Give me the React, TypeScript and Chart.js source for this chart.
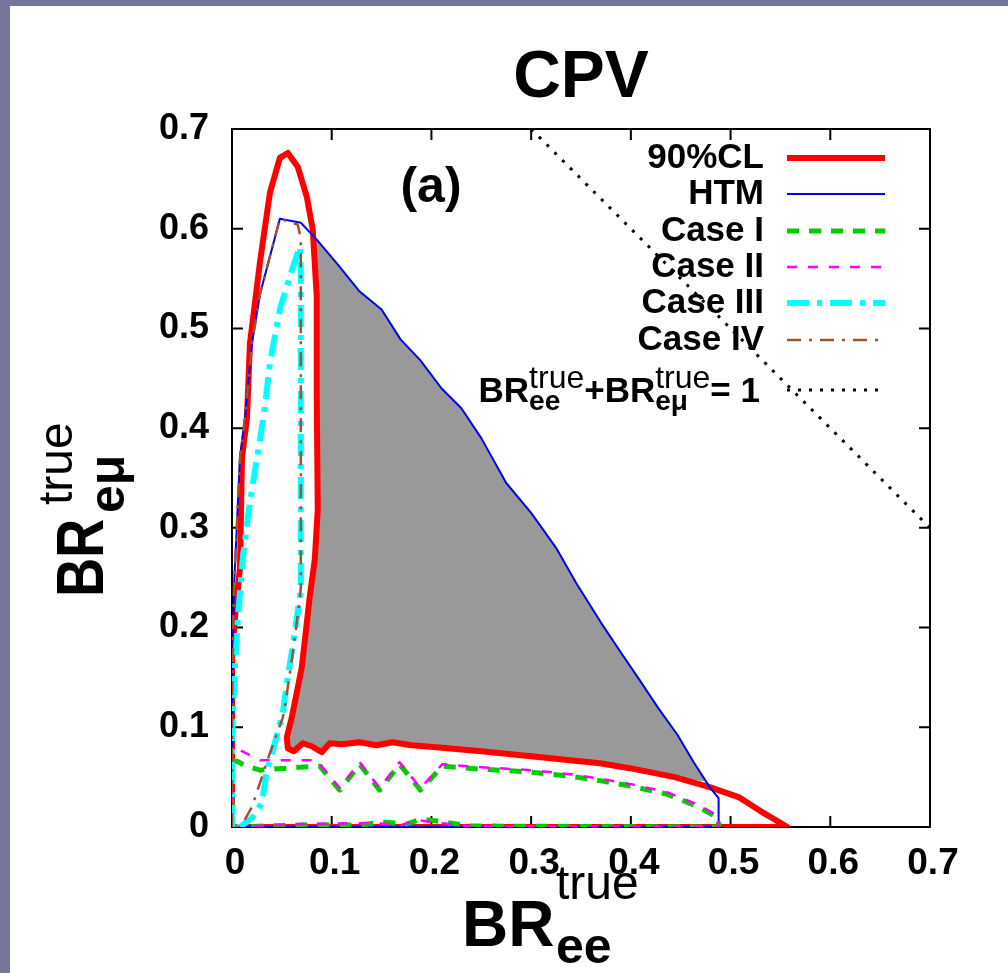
import { useEffect, useRef } from 'react';
import { Chart, registerables } from 'chart.js';

Chart.register(...registerables);

type P = [number, number];

const xTickValues = [0, 0.1, 0.2, 0.3, 0.4, 0.5, 0.6, 0.7];
const xTickLabels = ['0', '0.1', '0.2', '0.3', '0.4', '0.5', '0.6', '0.7'];
const yTickValues = [0, 0.1, 0.2, 0.3, 0.4, 0.5, 0.6, 0.7];
const yTickLabels = ['0', '0.1', '0.2', '0.3', '0.4', '0.5', '0.6', '0.7'];

const legendLabels = ['90%CL', 'HTM', 'Case I', 'Case II', 'Case III', 'Case IV'];

const cl90: P[] = [
  [0, 0], [0, 0.17], [0.003, 0.21], [0.008, 0.26], [0.01, 0.37], [0.015, 0.41], [0.018, 0.485],
  [0.028, 0.566], [0.038, 0.636], [0.048, 0.671], [0.056, 0.676], [0.066, 0.662], [0.075, 0.632],
  [0.081, 0.599], [0.085, 0.532], [0.085, 0.43], [0.086, 0.318], [0.083, 0.268], [0.078, 0.231],
  [0.07, 0.16], [0.06, 0.11], [0.055, 0.09], [0.056, 0.079], [0.062, 0.076], [0.071, 0.084],
  [0.08, 0.081], [0.09, 0.075], [0.098, 0.084], [0.11, 0.083], [0.128, 0.085], [0.145, 0.082],
  [0.161, 0.085], [0.18, 0.082], [0.205, 0.08], [0.25, 0.076], [0.3, 0.071], [0.339, 0.067],
  [0.369, 0.064], [0.399, 0.059], [0.444, 0.05], [0.479, 0.04], [0.508, 0.03], [0.53, 0.016],
  [0.557, 0], [0, 0],
];

const htm: P[] = [
  [0, 0], [0, 0.12], [0.002, 0.24], [0.008, 0.37], [0.013, 0.41], [0.02, 0.485], [0.028, 0.534],
  [0.048, 0.61], [0.069, 0.606], [0.085, 0.589], [0.107, 0.563], [0.128, 0.537], [0.15, 0.519],
  [0.169, 0.489], [0.189, 0.468], [0.21, 0.44], [0.23, 0.42], [0.25, 0.39], [0.275, 0.345],
  [0.3, 0.315], [0.325, 0.28], [0.345, 0.245], [0.37, 0.205], [0.39, 0.175], [0.409, 0.147],
  [0.427, 0.12], [0.447, 0.092], [0.463, 0.065], [0.479, 0.04], [0.488, 0.029], [0.488, 0], [0, 0],
];

const grayRegion: P[] = [
  [0.083, 0.59], [0.085, 0.589], [0.107, 0.563], [0.128, 0.537], [0.15, 0.519], [0.169, 0.489],
  [0.189, 0.468], [0.21, 0.44], [0.23, 0.42], [0.25, 0.39], [0.275, 0.345], [0.3, 0.315],
  [0.325, 0.28], [0.345, 0.245], [0.37, 0.205], [0.39, 0.175], [0.409, 0.147], [0.427, 0.12],
  [0.447, 0.092], [0.463, 0.065], [0.474, 0.046], [0.444, 0.05], [0.399, 0.059], [0.369, 0.064],
  [0.339, 0.067], [0.3, 0.071], [0.25, 0.076], [0.205, 0.08], [0.18, 0.082], [0.161, 0.085],
  [0.145, 0.082], [0.128, 0.085], [0.11, 0.083], [0.098, 0.084], [0.09, 0.075], [0.08, 0.081],
  [0.071, 0.084], [0.062, 0.076], [0.056, 0.079], [0.055, 0.09], [0.06, 0.11], [0.07, 0.16],
  [0.078, 0.231], [0.083, 0.268], [0.086, 0.318], [0.085, 0.43], [0.085, 0.532], [0.083, 0.59],
];

const case1: P[] = [
  [0, 0], [0, 0.066], [0.005, 0.066], [0.012, 0.062], [0.028, 0.057], [0.068, 0.06], [0.088, 0.061],
  [0.108, 0.037], [0.128, 0.063], [0.148, 0.037], [0.168, 0.063], [0.189, 0.037], [0.211, 0.061],
  [0.25, 0.058], [0.3, 0.055], [0.339, 0.051], [0.372, 0.046], [0.4, 0.041], [0.436, 0.033],
  [0.466, 0.021], [0.488, 0.009], [0.488, 0], [0.24, 0.001], [0.205, 0.006], [0.19, 0.008],
  [0.175, 0.003], [0.15, 0.005], [0.13, 0.002], [0.07, 0.002], [0, 0],
];

const case2: P[] = [
  [0, 0], [0, 0.075], [0.008, 0.077], [0.028, 0.067], [0.085, 0.067], [0.108, 0.039], [0.128, 0.065],
  [0.148, 0.039], [0.168, 0.065], [0.189, 0.039], [0.211, 0.063], [0.25, 0.06], [0.3, 0.057],
  [0.339, 0.053], [0.372, 0.048], [0.4, 0.043], [0.436, 0.035], [0.466, 0.023], [0.488, 0.011],
  [0.488, 0], [0.235, 0.001], [0.2, 0.005], [0.185, 0.007], [0.17, 0.002], [0.14, 0.004],
  [0.07, 0.003], [0, 0],
];

const case3: P[] = [
  [0, 0], [0, 0.09], [0.001, 0.114], [0.003, 0.161], [0.006, 0.211], [0.011, 0.271], [0.016, 0.311],
  [0.021, 0.345], [0.028, 0.388], [0.033, 0.421], [0.038, 0.465], [0.048, 0.519], [0.058, 0.552],
  [0.068, 0.582], [0.069, 0.56], [0.069, 0.238], [0.063, 0.195], [0.055, 0.144], [0.051, 0.115],
  [0.041, 0.077], [0.035, 0.057], [0.03, 0.024], [0.02, 0.009], [0.008, 0], [0, 0],
];

const case4: P[] = [
  [0, 0], [0, 0.12], [0.002, 0.24], [0.008, 0.37], [0.013, 0.41], [0.02, 0.485], [0.028, 0.534],
  [0.048, 0.61], [0.066, 0.604], [0.069, 0.59], [0.069, 0.24], [0.068, 0.228], [0.06, 0.168],
  [0.053, 0.12], [0.051, 0.11], [0.038, 0.074], [0.028, 0.044], [0.02, 0.02], [0.011, 0.004],
  [0.008, 0], [0, 0],
];

const sumLine: P[] = [[0.3, 0.7], [0.7, 0.3]];

const FONT = "'Liberation Sans', Arial, Helvetica, sans-serif";

const toXY = (arr: P[]) => arr.map(([x, y]) => ({ x, y }));

const framePlugin = {
  id: 'frame',
  beforeDatasetsDraw(chart: any) {
    const { ctx, chartArea: a, scales } = chart;
    const xs = scales.x;
    const ys = scales.y;
    ctx.save();
    ctx.strokeStyle = '#000';
    ctx.lineWidth = 2;
    ctx.setLineDash([]);
    ctx.strokeRect(a.left, a.top, a.right - a.left, a.bottom - a.top);
    const L = 11;
    ctx.beginPath();
    for (const v of xTickValues) {
      const px = xs.getPixelForValue(v);
      ctx.moveTo(px, a.bottom);
      ctx.lineTo(px, a.bottom - L);
      ctx.moveTo(px, a.top);
      ctx.lineTo(px, a.top + L);
    }
    for (const v of yTickValues) {
      const py = ys.getPixelForValue(v);
      ctx.moveTo(a.left, py);
      ctx.lineTo(a.left + L, py);
      ctx.moveTo(a.right, py);
      ctx.lineTo(a.right - L, py);
    }
    ctx.stroke();
    ctx.restore();
  },
};

const textPlugin = {
  id: 'texts',
  afterDraw(chart: any) {
    const { ctx, chartArea: a } = chart;
    ctx.save();
    ctx.fillStyle = '#000';
    ctx.setLineDash([]);

    // Title
    ctx.font = `bold 66px ${FONT}`;
    ctx.textAlign = 'center';
    ctx.textBaseline = 'alphabetic';
    ctx.fillText('CPV', (a.left + a.right) / 2, 97);

    // (a)
    ctx.font = `bold 50px ${FONT}`;
    ctx.fillText('(a)', 431, 202);

    // X axis title
    ctx.textAlign = 'left';
    ctx.font = `bold 64px ${FONT}`;
    ctx.fillText('BR', 462, 946);
    ctx.font = `48px ${FONT}`;
    ctx.fillText('true', 556, 899);
    ctx.font = `bold 50px ${FONT}`;
    ctx.fillText('ee', 556, 963);

    // Y axis title (rotated)
    ctx.save();
    ctx.translate(103, 597);
    ctx.rotate(-Math.PI / 2);
    ctx.save();
    ctx.scale(0.82, 1);
    ctx.font = `bold 66px ${FONT}`;
    ctx.fillText('BR', 0, 0);
    ctx.restore();
    ctx.font = `48px ${FONT}`;
    ctx.fillText('true', 92, -31);
    ctx.font = `bold 50px ${FONT}`;
    ctx.fillText('eμ', 84, 21);
    ctx.restore();

    // Legend
    const rowYs = [158, 194, 231, 267, 303, 340];
    const textRight = 764;
    const sx0 = 787;
    const sx1 = 885;
    const datasets = chart.data.datasets;
    ctx.font = `bold 35px ${FONT}`;
    ctx.textAlign = 'right';
    ctx.textBaseline = 'middle';
    legendLabels.forEach((lab, i) => {
      const ds = datasets.find((d: any) => d.label === lab);
      const y = rowYs[i];
      ctx.fillStyle = '#000';
      ctx.fillText(lab, textRight, y);
      if (ds) {
        ctx.strokeStyle = ds.borderColor;
        ctx.lineWidth = ds.borderWidth;
        ctx.setLineDash(ds.borderDash || []);
        ctx.lineCap = 'butt';
        ctx.beginPath();
        ctx.moveTo(sx0, y);
        ctx.lineTo(sx1, y);
        ctx.stroke();
      }
    });

    // Last legend entry with sub/superscripts
    ctx.setLineDash([]);
    ctx.textBaseline = 'alphabetic';
    ctx.textAlign = 'left';
    const fMain = `bold 35px ${FONT}`;
    const fSup = `32px ${FONT}`;
    const fSub = `bold 28px ${FONT}`;
    type Seg = { t?: string; sup?: string; sub?: string };
    const segs: Seg[] = [
      { t: 'BR' }, { sup: 'true', sub: 'ee' }, { t: '+BR' }, { sup: 'true', sub: 'eμ' }, { t: '= 1' },
    ];
    const widthOf = (s: Seg) => {
      if (s.t) { ctx.font = fMain; return ctx.measureText(s.t).width; }
      ctx.font = fSup; const w1 = ctx.measureText(s.sup!).width;
      ctx.font = fSub; const w2 = ctx.measureText(s.sub!).width;
      return Math.max(w1, w2);
    };
    const total = segs.reduce((acc, s) => acc + widthOf(s), 0);
    let cx = 760 - total;
    const base = 402;
    ctx.fillStyle = '#000';
    for (const s of segs) {
      const w = widthOf(s);
      if (s.t) {
        ctx.font = fMain; ctx.fillText(s.t, cx, base);
      } else {
        ctx.font = fSup; ctx.fillText(s.sup!, cx, base - 14);
        ctx.font = fSub; ctx.fillText(s.sub!, cx, base + 8);
      }
      cx += w;
    }
    const dotted = datasets.find((d: any) => d.label === 'sum');
    if (dotted) {
      ctx.strokeStyle = dotted.borderColor;
      ctx.lineWidth = dotted.borderWidth;
      ctx.setLineDash(dotted.borderDash);
      ctx.beginPath();
      ctx.moveTo(sx0, 390);
      ctx.lineTo(sx1, 390);
      ctx.stroke();
    }
    ctx.restore();
  },
};

export default function App() {
  const ref = useRef<HTMLCanvasElement | null>(null);
  useEffect(() => {
    if (!ref.current) return;
    const base = { pointRadius: 0, pointHoverRadius: 0, tension: 0, fill: false, borderJoinStyle: 'round' as const };
    const chart = new Chart(ref.current, {
      type: 'line',
      data: {
        datasets: [
          { ...base, label: 'gray', data: toXY(grayRegion), borderWidth: 0, borderColor: 'rgba(0,0,0,0)', backgroundColor: '#999999', fill: 'shape', order: 7 },
          { ...base, label: '90%CL', data: toXY(cl90), borderColor: '#ff0000', borderWidth: 6, order: 6 },
          { ...base, label: 'HTM', data: toXY(htm), borderColor: '#0000ff', borderWidth: 2, order: 5 },
          { ...base, label: 'Case I', data: toXY(case1), borderColor: '#00cc00', borderWidth: 5, borderDash: [12, 10], order: 4 },
          { ...base, label: 'Case II', data: toXY(case2), borderColor: '#ff00ff', borderWidth: 2.5, borderDash: [10, 11], order: 3 },
          { ...base, label: 'Case III', data: toXY(case3), borderColor: '#00ffff', borderWidth: 6, borderDash: [22, 8, 5, 8], order: 2 },
          { ...base, label: 'Case IV', data: toXY(case4), borderColor: '#a0522d', borderWidth: 2.5, borderDash: [14, 8, 3, 8], order: 1 },
          { ...base, label: 'sum', data: toXY(sumLine), borderColor: '#000000', borderWidth: 3, borderDash: [3, 8], order: 0 },
        ] as any,
      },
      options: {
        animation: false,
        responsive: false,
        events: [],
        layout: { padding: { left: 0, right: 78, top: 129, bottom: 0 } },
        plugins: {
          legend: { display: false },
          tooltip: { enabled: false },
          title: { display: false },
        },
        scales: {
          x: {
            type: 'linear',
            min: 0,
            max: 0.7,
            afterBuildTicks: (s: any) => { s.ticks = xTickValues.map((v) => ({ value: v })); },
            afterFit: (s: any) => { s.height = 146; },
            grid: { display: false, drawTicks: false },
            border: { display: false },
            ticks: {
              callback: (_v: any, i: number) => xTickLabels[i],
              font: { family: FONT, size: 37, weight: 'bold' },
              color: '#000',
              padding: 15,
              labelOffset: 3,
              maxRotation: 0,
              autoSkip: false,
            },
          },
          y: {
            type: 'linear',
            min: 0,
            max: 0.7,
            afterBuildTicks: (s: any) => { s.ticks = yTickValues.map((v) => ({ value: v })); },
            afterFit: (s: any) => { s.width = 232; },
            grid: { display: false, drawTicks: false },
            border: { display: false },
            ticks: {
              callback: (_v: any, i: number) => yTickLabels[i],
              font: { family: FONT, size: 36, weight: 'bold' },
              color: '#000',
              padding: 23,
              autoSkip: false,
            },
          },
        },
      } as any,
      plugins: [framePlugin, textPlugin],
    });
    return () => chart.destroy();
  }, []);

  return (
    <div style={{ position: 'fixed', left: 0, top: 0, width: 1008, height: 973, background: '#ffffff', overflow: 'hidden' }}>
      <canvas ref={ref} width={1008} height={973} style={{ display: 'block' }} />
      <div style={{ position: 'absolute', left: 0, top: 0, width: 10, height: 973, background: '#76759b' }} />
      <div style={{ position: 'absolute', left: 0, top: 0, width: 1008, height: 6, background: '#76759b' }} />
    </div>
  );
}
